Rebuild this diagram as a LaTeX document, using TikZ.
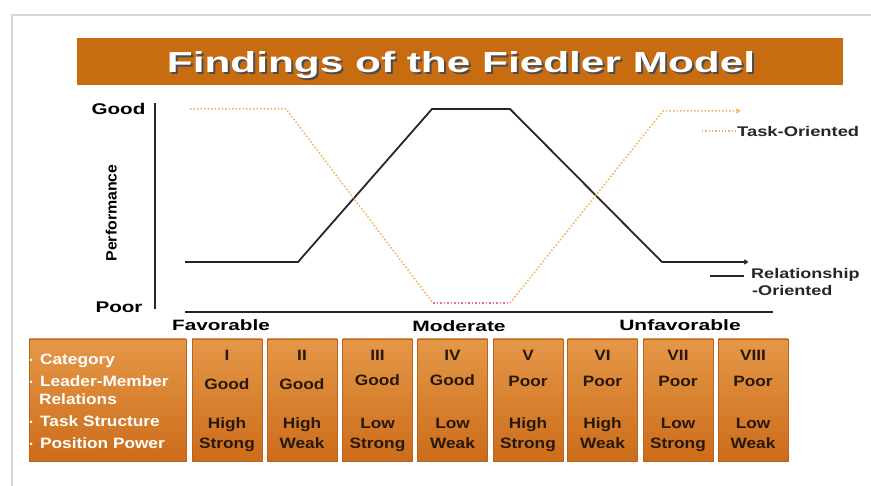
\documentclass[tikz,border=0pt]{standalone}
\usepackage{fontspec}
\setmainfont{Liberation Sans}
\usepackage{graphicx}
\usetikzlibrary{arrows.meta}
\definecolor{titlebar}{RGB}{200,108,18}
\definecolor{boxtop}{RGB}{228,152,72}
\definecolor{boxbot}{RGB}{204,108,26}
\definecolor{boxedge}{RGB}{185,100,30}
\definecolor{taskc}{RGB}{240,178,88}
\definecolor{pinkc}{RGB}{232,110,150}
\definecolor{txtdark}{RGB}{38,24,10}
\definecolor{framec}{RGB}{215,215,215}
\newcommand{\sx}[2]{\scalebox{#1}[1]{#2}}
\begin{document}
\begin{tikzpicture}[x=1pt,y=-1pt,
  catbox/.style={draw=boxedge, line width=0.6pt, top color=boxtop, bottom color=boxbot, minimum height=122pt, inner sep=0pt},
  celltxt/.style={text=txtdark, font=\bfseries\fontsize{15}{18}\selectfont, inner sep=0pt, anchor=mid},
  lefttxt/.style={text=white, font=\bfseries\fontsize{15}{18}\selectfont, inner sep=0pt, anchor=mid west},
  axtxt/.style={text=black, font=\bfseries\fontsize{15.5}{18}\selectfont, inner sep=0pt, anchor=mid},
  legtxt/.style={text=black!85, font=\bfseries\fontsize{14}{17}\selectfont, inner sep=0pt, anchor=mid west},
  relline/.style={line width=1.8pt, black!85},
  taskline/.style={line width=1.5pt, taskc, dotted},
  bullet/.style={circle, fill=white, inner sep=0pt, minimum size=3pt}
]
\useasboundingbox (0,0) rectangle (871,486);
\fill[white] (0,0) rectangle (871,486);
% frame of the slide
\draw[framec, line width=2pt] (12,486) -- (12,15) -- (871,15);
% title
\node[fill=titlebar, minimum width=766pt, minimum height=47pt, inner sep=0pt] (bar) at (460,61.5) {};
\node[text=black!70, font=\bfseries\fontsize{29}{34}\selectfont, inner sep=0pt, anchor=mid] (titleshadow) at (463,72) {\sx{1.46}{Findings of the Fiedler Model}};
\node[text=white, font=\bfseries\fontsize{29}{34}\selectfont, inner sep=0pt, anchor=mid] (title) at (461,70) {\sx{1.46}{Findings of the Fiedler Model}};
% axes
\coordinate (ytop) at (155,103);
\coordinate (ybot) at (155,309);
\coordinate (xl) at (185,312);
\coordinate (xr) at (773,312);
\draw[line width=1.8pt, black!85] (ytop) -- (ybot);
\draw[line width=1.8pt, black!85] (xl) -- (xr);
\node[axtxt] (good) at (118.5,112) {\sx{1.33}{Good}};
\node[axtxt] (poor) at (119,310) {\sx{1.33}{Poor}};
\node[text=black, font=\bfseries\fontsize{15}{18}\selectfont, inner sep=0pt, anchor=mid, rotate=90] (perf) at (114,213) {\sx{1.06}{Performance}};
\node[axtxt, font=\bfseries\fontsize{15}{18}\selectfont] (fav) at (221,328) {\sx{1.38}{Favorable}};
\node[axtxt, font=\bfseries\fontsize{15}{18}\selectfont] (mod) at (459,329) {\sx{1.40}{Moderate}};
\node[axtxt, font=\bfseries\fontsize{15}{18}\selectfont] (unf) at (680,328) {\sx{1.40}{Unfavorable}};
% relationship-oriented curve
\coordinate (r0) at (185,262);
\coordinate (r1) at (298,262);
\coordinate (r2) at (432,109);
\coordinate (r3) at (510,109);
\coordinate (r4) at (662,262);
\coordinate (r5) at (748,262);
\draw[relline] (r0) -- (r1) -- (r2) -- (r3) -- (r4);
\draw[line width=1.2pt, black!85, -{To[length=4pt,width=5pt]}] (r4) -- (r5);
% task-oriented curve
\coordinate (t0) at (190,109);
\coordinate (t1) at (286,109);
\coordinate (t2) at (433,303);
\coordinate (t3) at (510,303);
\coordinate (t4) at (663,111);
\coordinate (t5) at (740,111);
\coordinate (t5a) at (737,111);
\draw[taskline] (t0) -- (t1) -- (t2);
\draw[line width=1.5pt, pinkc, dotted] (t2) -- (t3);
\draw[taskline] (t3) -- (t4) -- (t5a);
\draw[line width=1pt, taskc, -{To[length=4pt,width=5pt]}] (t5a) -- (t5);
% legend
\coordinate (lt0) at (702,131);
\coordinate (lt1) at (736,131);
\draw[line width=1.3pt, taskc, dotted] (lt0) -- (lt1);
\node[legtxt] (ltask) at (737,134) {\sx{1.31}{Task-Oriented}};
\coordinate (lr0) at (710,276);
\coordinate (lr1) at (744,276);
\draw[line width=1.5pt, black!85] (lr0) -- (lr1);
\node[legtxt] (lrel) at (751,276) {\sx{1.29}{Relationship}};
\node[legtxt] (lori) at (752,293) {\sx{1.29}{-Oriented}};
% table, left box
\node[catbox, minimum width=157pt] (lbox) at (107.5,400) {};
\node[lefttxt] (lcat) at (40,362) {\sx{1.15}{Category}};
\node[lefttxt] (llmr) at (40,384) {\sx{1.15}{Leader-Member}};
\node[lefttxt] (lrel2) at (39,402) {\sx{1.15}{Relations}};
\node[lefttxt] (lts) at (40,424) {\sx{1.15}{Task Structure}};
\node[lefttxt] (lpp) at (40,446) {\sx{1.15}{Position Power}};
\node[bullet] (b1) at (31,360) {};
\node[bullet] (b2) at (31,382) {};
\node[bullet] (b3) at (31,422) {};
\node[bullet] (b4) at (31,444) {};
% table, category columns
\foreach \i/\x/\n/\r/\ry/\t/\p in {
  1/227/I/Good/387/High/Strong,
  2/302/II/Good/387/High/Weak,
  3/377.5/III/Good/383/Low/Strong,
  4/452.5/IV/Good/383/Low/Weak,
  5/528/V/Poor/384/High/Strong,
  6/602.5/VI/Poor/384/High/Weak,
  7/678/VII/Poor/384/Low/Strong,
  8/753/VIII/Poor/384/Low/Weak}{
  \node[catbox, minimum width=70pt] (col\i) at (\x,400) {};
  \node[celltxt] (num\i) at (\x,358) {\sx{1.15}{\n}};
  \node[celltxt] (lmr\i) at (\x,\ry) {\sx{1.15}{\r}};
  \node[celltxt] (ts\i) at (\x,426) {\sx{1.15}{\t}};
  \node[celltxt] (pp\i) at (\x,446) {\sx{1.15}{\p}};
}
\end{tikzpicture}
\end{document}
